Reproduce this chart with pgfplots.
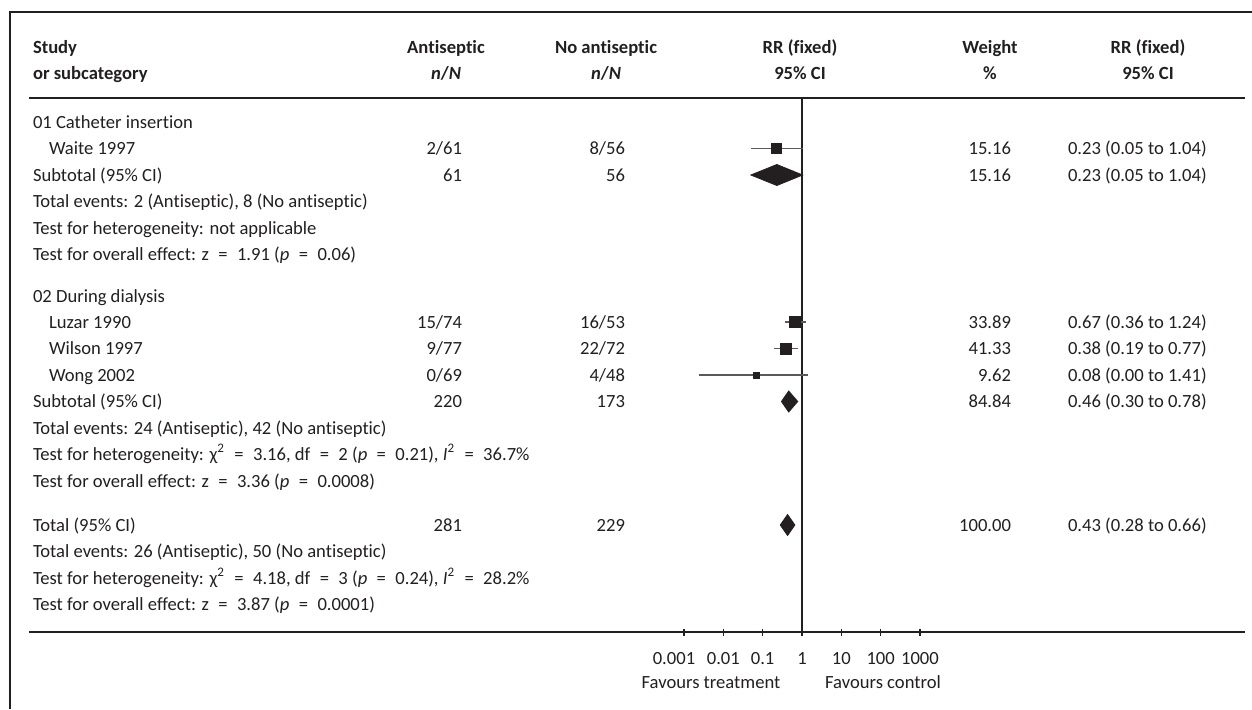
\documentclass[border=0pt]{standalone}
\usepackage{fontspec}
\setmainfont{Carlito}[RawFeature=-liga]
\usepackage{pgfplots}
\pgfplotsset{compat=1.18}
\definecolor{txt}{HTML}{231F20}
\definecolor{whisk}{HTML}{5A5A5A}
\newcommand{\fs}{\fontsize{9.3pt}{11pt}\selectfont}
\newcommand{\eq}{\hspace{2.6pt} = \hspace{2.6pt}}
\begin{document}
\begin{tikzpicture}[x=0.5pt,y=-0.5pt,font=\fs,every node/.style={inner sep=0pt,outer sep=0pt,text=txt}]
\useasboundingbox (0,0) rectangle (1252,709);
\draw[line width=0.65pt,txt] (1252,12) -- (10,12) -- (10,709);
\begin{axis}[
  at={(14.5pt,-316pt)}, anchor=south west,
  width=608pt, height=267pt, scale only axis,
  xmode=log, xmin=2.218e-20, xmax=1.837e11,
  ymin=-632, ymax=-98,
  axis x line*=bottom, axis y line=none,
  x axis line style={-,line width=0.65pt,draw=txt},
  xtick={0.01,0.1,1,10,100,1000},
  xticklabels={0.01,0.1,1,10,100,1000},
  extra x ticks={0.001},
  extra x tick labels={0.001},
  extra x tick style={xticklabel style={xshift=-5pt}},
  xminorticks=false,
  tick align=center, major tick length=3.5pt,
  tick style={line width=0.65pt,draw=txt},
  xticklabel style={font=\fs,anchor=base,yshift=-14.5pt,inner sep=0pt,text=txt},
  clip=false,
]
\draw[line width=0.65pt,txt] (rel axis cs:0,1) -- (rel axis cs:1,1);
\draw[line width=0.65pt,txt] (axis cs:1,-98) -- (axis cs:1,-632);
% whiskers
\addplot[whisk,line width=0.65pt] coordinates {(0.05,-148.5) (1.04,-148.5)};
\addplot[whisk,line width=0.65pt] coordinates {(0.36,-322) (1.24,-322)};
\addplot[whisk,line width=0.65pt] coordinates {(0.19,-348.5) (0.77,-348.5)};
\addplot[whisk,line width=0.65pt] coordinates {(0.0024,-375) (1.41,-375)};
% squares
\addplot[only marks,mark=square*,mark size=2.5pt,mark options={fill=txt,draw=txt}] coordinates {(0.23,-148.5)};
\addplot[only marks,mark=square*,mark size=2.75pt,mark options={fill=txt,draw=txt}] coordinates {(0.67,-322)};
\addplot[only marks,mark=square*,mark size=2.75pt,mark options={fill=txt,draw=txt}] coordinates {(0.38,-348.5)};
\addplot[only marks,mark=square*,mark size=1.5pt,mark options={fill=txt,draw=txt}] coordinates {(0.07,-375)};
% diamonds
\addplot[fill=txt,draw=txt] coordinates {(0.05,-175) (0.23,-164.5) (1.04,-175) (0.23,-185.5)} -- cycle;
\addplot[fill=txt,draw=txt] coordinates {(0.30,-401.5) (0.46,-391) (0.78,-401.5) (0.46,-412)} -- cycle;
\addplot[fill=txt,draw=txt] coordinates {(0.28,-525) (0.43,-514.5) (0.66,-525) (0.43,-535.5)} -- cycle;
\end{axis}
% headers
\node[anchor=base west] at (33,53) {\textbf{Study}};
\node[anchor=base west] at (33,79) {\textbf{or subcategory}};
\node[anchor=base] at (446,53) {\textbf{Antiseptic}};
\node[anchor=base] at (446,79) {\textbf{\textit{n}/\textit{N}}};
\node[anchor=base] at (606,53) {\textbf{No antiseptic}};
\node[anchor=base] at (606,79) {\textbf{\textit{n}/\textit{N}}};
\node[anchor=base] at (800,53) {\textbf{RR (fixed)}};
\node[anchor=base] at (800,79) {\textbf{95\% CI}};
\node[anchor=base] at (990,53) {\textbf{Weight}};
\node[anchor=base] at (990,79) {\textbf{\%}};
\node[anchor=base] at (1148,53) {\textbf{RR (fixed)}};
\node[anchor=base] at (1148,79) {\textbf{95\% CI}};
% left column
\node[anchor=base west] at (33,128) {01 Catheter insertion};
\node[anchor=base west] at (49,154.5) {Waite 1997};
\node[anchor=base west] at (33,181) {Subtotal (95\% CI)};
\node[anchor=base west] at (33,207.5) {Total events: 2 (Antiseptic), 8 (No antiseptic)};
\node[anchor=base west] at (33,234) {Test for heterogeneity: not applicable};
\node[anchor=base west] at (33,260.5) {Test for overall effect: z\eq 1.91 (\textit{p}\eq 0.06)};
\node[anchor=base west] at (33,302) {02 During dialysis};
\node[anchor=base west] at (49,328) {Luzar 1990};
\node[anchor=base west] at (49,354.5) {Wilson 1997};
\node[anchor=base west] at (49,381) {Wong 2002};
\node[anchor=base west] at (33,407.5) {Subtotal (95\% CI)};
\node[anchor=base west] at (33,434) {Total events: 24 (Antiseptic), 42 (No antiseptic)};
\node[anchor=base west] at (33,460.5) {Test for heterogeneity: χ\textsuperscript{2}\eq 3.16, df\eq 2 (\textit{p}\eq 0.21), \textit{I}\textsuperscript{2}\eq 36.7\%};
\node[anchor=base west] at (33,487) {Test for overall effect: z\eq 3.36 (\textit{p}\eq 0.0008)};
\node[anchor=base west] at (33,531) {Total (95\% CI)};
\node[anchor=base west] at (33,557.5) {Total events: 26 (Antiseptic), 50 (No antiseptic)};
\node[anchor=base west] at (33,584) {Test for heterogeneity: χ\textsuperscript{2}\eq 4.18, df\eq 3 (\textit{p}\eq 0.24), \textit{I}\textsuperscript{2}\eq 28.2\%};
\node[anchor=base west] at (33,610.5) {Test for overall effect: z\eq 3.87 (\textit{p}\eq 0.0001)};
% antiseptic
\node[anchor=base east] at (462,154.5) {2/61};
\node[anchor=base east] at (462,181) {61};
\node[anchor=base east] at (462,328) {15/74};
\node[anchor=base east] at (462,354.5) {9/77};
\node[anchor=base east] at (462,381) {0/69};
\node[anchor=base east] at (462,407.5) {220};
\node[anchor=base east] at (462,531) {281};
% no antiseptic
\node[anchor=base east] at (625,154.5) {8/56};
\node[anchor=base east] at (625,181) {56};
\node[anchor=base east] at (625,328) {16/53};
\node[anchor=base east] at (625,354.5) {22/72};
\node[anchor=base east] at (625,381) {4/48};
\node[anchor=base east] at (625,407.5) {173};
\node[anchor=base east] at (625,531) {229};
% weight
\node[anchor=base east] at (1011,154.5) {15.16};
\node[anchor=base east] at (1011,181) {15.16};
\node[anchor=base east] at (1011,328) {33.89};
\node[anchor=base east] at (1011,354.5) {41.33};
\node[anchor=base east] at (1011,381) {9.62};
\node[anchor=base east] at (1011,407.5) {84.84};
\node[anchor=base east] at (1011,531) {100.00};
% CI
\node[anchor=base west] at (1068,154.5) {0.23 (0.05 to 1.04)};
\node[anchor=base west] at (1068,181) {0.23 (0.05 to 1.04)};
\node[anchor=base west] at (1068,328) {0.67 (0.36 to 1.24)};
\node[anchor=base west] at (1068,354.5) {0.38 (0.19 to 0.77)};
\node[anchor=base west] at (1068,381) {0.08 (0.00 to 1.41)};
\node[anchor=base west] at (1068,407.5) {0.46 (0.30 to 0.78)};
\node[anchor=base west] at (1068,531) {0.43 (0.28 to 0.66)};
% favours
\node[anchor=base] at (711,688) {Favours treatment};
\node[anchor=base] at (883,688) {Favours control};
\end{tikzpicture}
\end{document}
